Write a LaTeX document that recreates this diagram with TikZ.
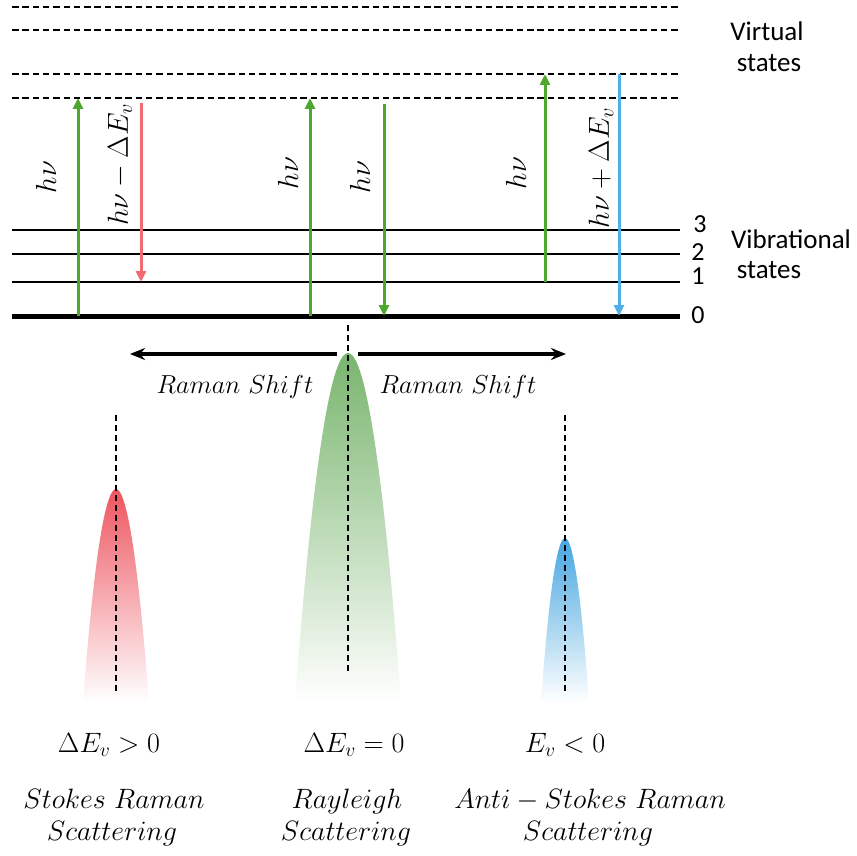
\RequirePackage{fix-cm}
\documentclass[tikz,border=0pt]{standalone}
\usepackage{fontspec}
\newfontfamily\labelfont{Carlito}
\usetikzlibrary{arrows.meta}

\definecolor{exgreen}{HTML}{4EA72E}
\definecolor{stred}{HTML}{F26A72}
\definecolor{asblue}{HTML}{4FAFE6}
\definecolor{pkgreen}{HTML}{79B56E}
\definecolor{pkred}{HTML}{EE5560}
\definecolor{pkblue}{HTML}{45A5E0}

\begin{document}
\begin{tikzpicture}[x=1pt,y=-1pt,
  virtual/.style={line width=1.8pt,dash pattern=on 6.5pt off 3.8pt},
  vibline/.style={line width=1.9pt},
  groundline/.style={line width=5pt},
  trans/.style={line width=3pt,-{Triangle[length=11pt,width=10pt]}},
  shiftarrow/.style={line width=3.4pt,-{Stealth[length=15pt,width=12pt]}},
  centreline/.style={line width=2pt,dash pattern=on 6pt off 4pt},
  mathlbl/.style={inner sep=0pt,font=\fontsize{29}{32}\selectfont},
  botlbl/.style={inner sep=0pt,anchor=base,font=\fontsize{28}{32}\selectfont},
  shiftlbl/.style={inner sep=0pt,anchor=base,font=\fontsize{26}{28}\selectfont},
  sanslbl/.style={inner sep=0pt,anchor=base,font=\labelfont\fontsize{27}{32}\selectfont},
  digit/.style={inner sep=0pt,font=\labelfont\fontsize{26}{28}\selectfont},
]
\useasboundingbox (0,0) rectangle (857,856);

% ---------- energy levels ----------
\foreach \y/\n in {7/va,30/vb,74/vc,98/vd}
  \draw[virtual] (12,\y) coordinate (\n L) -- (680,\y) coordinate (\n R);
\foreach \y/\n in {230/l3,254/l2,282/l1}
  \draw[vibline] (12,\y) coordinate (\n L) -- (680,\y) coordinate (\n R);
\draw[groundline] (12,316) coordinate (l0L) -- (680,316) coordinate (l0R);

\node[digit] (n3) at (700,224) {3};
\node[digit] (n2) at (698,252) {2};
\node[digit] (n1) at (698,276) {1};
\node[digit] (n0) at (698,315) {0};

\node[sanslbl] (virt1) at (767,41) {Virtual};
\node[sanslbl] (virt2) at (769,72) {states};
\node[sanslbl] (vib1) at (791,248) {Vibrational};
\node[sanslbl] (vib2) at (769,278) {states};

% ---------- transitions ----------
% Stokes
\coordinate (sa0) at (78,316);  \coordinate (sa1) at (78,98);
\coordinate (sb0) at (141,103); \coordinate (sb1) at (141,282);
\draw[trans,exgreen] (sa0) -- (sa1);
\draw[trans,stred] (sb0) -- (sb1);
\node[mathlbl,rotate=90] (hs1) at (46,177) {$h\nu$};
\node[mathlbl,rotate=90] (hs2) at (120,165) {$h\nu-\Delta E_v$};

% Rayleigh
\coordinate (ra0) at (310,316); \coordinate (ra1) at (310,98);
\coordinate (rb0) at (384,104); \coordinate (rb1) at (384,316);
\draw[trans,exgreen] (ra0) -- (ra1);
\draw[trans,exgreen] (rb0) -- (rb1);
\node[mathlbl,rotate=90] (hr1) at (288,173) {$h\nu$};
\node[mathlbl,rotate=90] (hr2) at (360,177) {$h\nu$};

% anti-Stokes
\coordinate (aa0) at (545,282); \coordinate (aa1) at (545,74);
\coordinate (ab0) at (619,74);  \coordinate (ab1) at (619,316);
\draw[trans,exgreen] (aa0) -- (aa1);
\draw[trans,asblue] (ab0) -- (ab1);
\node[mathlbl,rotate=90] (ha1) at (516,173) {$h\nu$};
\node[mathlbl,rotate=90] (ha2) at (601,168) {$h\nu+\Delta E_v$};

% ---------- spectral peaks ----------
\shade[top color=pkgreen,bottom color=white]
  (295,702) parabola bend (348,353) (401,702) -- cycle;
\shade[top color=pkred,bottom color=white]
  (83,702) parabola bend (116,489) (149,702) -- cycle;
\shade[top color=pkblue,bottom color=white]
  (541,702) parabola bend (565,538) (589,702) -- cycle;

\coordinate (c0) at (348,325); \coordinate (c1) at (348,672);
\coordinate (r0) at (116,415); \coordinate (r1) at (116,692);
\coordinate (b0) at (565,415); \coordinate (b1) at (565,692);
\draw[centreline] (c0) -- (c1);
\draw[centreline] (r0) -- (r1);
\draw[centreline] (b0) -- (b1);

% ---------- Raman shift arrows ----------
\coordinate (shL0) at (337,354); \coordinate (shL1) at (130,354);
\coordinate (shR0) at (358,354); \coordinate (shR1) at (566,354);
\draw[shiftarrow] (shL0) -- (shL1);
\draw[shiftarrow] (shR0) -- (shR1);
\node[shiftlbl] (rs1) at (235,393) {$Raman\ Shift$};
\node[shiftlbl] (rs2) at (458,393) {$Raman\ Shift$};

% ---------- bottom captions ----------
\node[botlbl] (e1) at (109,752) {$\Delta E_v>0$};
\node[botlbl] (e2) at (354,752) {$\Delta E_v=0$};
\node[botlbl] (e3) at (565,752) {$E_v<0$};

\node[botlbl] (t1a) at (114,808) {$Stokes\ Raman$};
\node[botlbl] (t1b) at (112,840) {$Scattering$};
\node[botlbl] (t2a) at (347,808) {$Rayleigh$};
\node[botlbl] (t2b) at (346,840) {$Scattering$};
\node[botlbl] (t3a) at (590,808) {$Anti-Stokes\ Raman$};
\node[botlbl] (t3b) at (588,840) {$Scattering$};
\end{tikzpicture}
\end{document}
